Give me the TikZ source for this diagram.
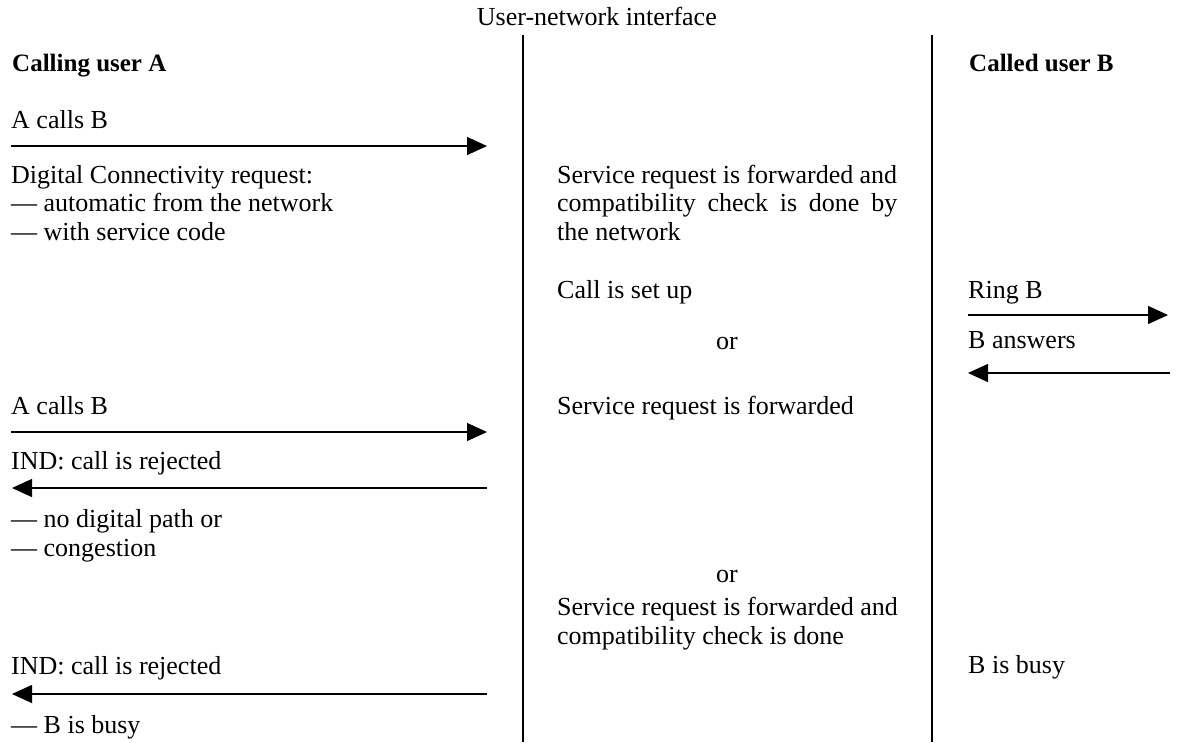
\documentclass[tikz,border=0pt]{standalone}
\usepackage{fontspec}
\setmainfont{Liberation Serif}
\usetikzlibrary{arrows.meta}
\begin{document}
\begin{tikzpicture}[x=1pt,y=-1pt,
  txt/.style={anchor=base west, inner sep=0pt, align=left, font=\fontsize{26}{28.5}\selectfont},
  hd/.style={anchor=base west, inner sep=0pt, font=\fontsize{25}{28.5}\selectfont\bfseries},
  ctr/.style={anchor=base, inner sep=0pt, font=\fontsize{26}{28.5}\selectfont},
  msg/.style={line width=1.3pt, -{Triangle[length=20pt,width=18pt]}},
  life/.style={line width=1.2pt}]
\useasboundingbox (0,0) rectangle (1181,742);
% title and life lines
\node[ctr, anchor=base east] (title) at (717,25) {User-network interface};
\coordinate (l1t) at (523,35); \coordinate (l1b) at (523,742);
\coordinate (l2t) at (932,35); \coordinate (l2b) at (932,742);
\draw[life] (l1t) -- (l1b);
\draw[life] (l2t) -- (l2b);
% headings
\node[hd] (ha) at (12,71) {Calling user A};
\node[hd] (hb) at (969,71) {Called user B};
% first exchange
\node[txt] (t1) at (11,128) {A calls B};
\coordinate (a1s) at (11,146); \coordinate (a1e) at (487,146);
\draw[msg] (a1s) -- (a1e);
\node[txt] (t2) at (11,240) {Digital Connectivity request:\\--- automatic from the network\\--- with service code};
\node[txt] (m1) at (557,240) {\makebox[340pt][s]{Service request is forwarded and}\\\makebox[340pt][s]{compatibility check is done by}\\the network};
\node[txt] (m2) at (557,298) {Call is set up};
\node[txt] (r1) at (968,298) {Ring B};
\coordinate (a2s) at (968,315); \coordinate (a2e) at (1168,315);
\draw[msg] (a2s) -- (a2e);
\node[ctr] (or1) at (727,349) {or};
\node[txt] (r2) at (968,348) {B answers};
\coordinate (a3s) at (1170,373); \coordinate (a3e) at (968,373);
\draw[msg] (a3s) -- (a3e);
% second exchange
\node[txt] (t3) at (11,414) {A calls B};
\node[txt] (m3) at (557,414) {Service request is forwarded};
\coordinate (a4s) at (11,432); \coordinate (a4e) at (487,432);
\draw[msg] (a4s) -- (a4e);
\node[txt] (t4) at (11,469) {IND: call is rejected};
\coordinate (a5s) at (487,488); \coordinate (a5e) at (12,488);
\draw[msg] (a5s) -- (a5e);
\node[txt] (t5) at (11,556) {--- no digital path or\\--- congestion};
% third exchange
\node[ctr] (or2) at (727,582) {or};
\node[txt] (m4) at (557,644) {Service request is forwarded and\\compatibility check is done};
\node[txt] (t6) at (11,674) {IND: call is rejected};
\node[txt] (r3) at (968,673) {B is busy};
\coordinate (a6s) at (487,694); \coordinate (a6e) at (12,694);
\draw[msg] (a6s) -- (a6e);
\node[txt] (t7) at (11,733) {--- B is busy};
\end{tikzpicture}
\end{document}
